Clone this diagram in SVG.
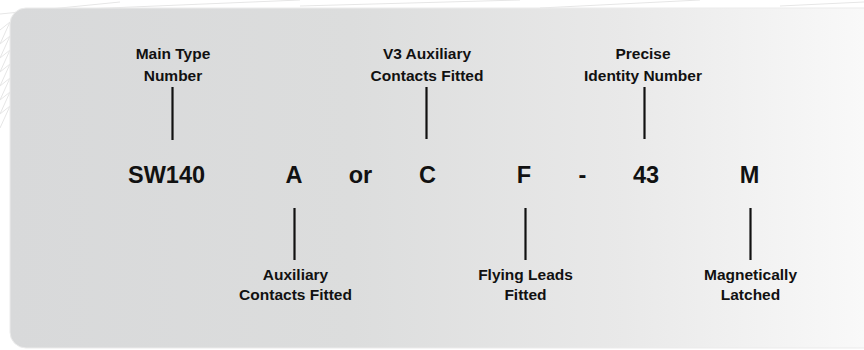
<svg xmlns="http://www.w3.org/2000/svg" width="864" height="350" viewBox="0 0 864 350">
<defs>
<linearGradient id="panelGrad" x1="10" y1="0" x2="864" y2="0" gradientUnits="userSpaceOnUse">
<stop offset="0" stop-color="#d8d9da"/>
<stop offset="0.4" stop-color="#dcdddd"/>
<stop offset="0.72" stop-color="#e9e9e9"/>
<stop offset="1" stop-color="#f9f9f9"/>
</linearGradient>
<style>
.lbl{font-family:"Liberation Sans",Arial,sans-serif;font-weight:bold;font-size:15.5px;fill:#111;text-anchor:middle}
.code{font-family:"Liberation Sans",Arial,sans-serif;font-weight:bold;font-size:23.5px;fill:#111;text-anchor:middle}
.conn line{stroke:#111;stroke-width:2.2}
.deco{stroke:#e6e6e6;stroke-width:1;fill:none}
</style>
</defs>
<rect width="864" height="350" fill="#ffffff"/>
<g class="deco">
<path d="M0 14 L120 2 M60 10 L300 0 M300 6 L520 0 M540 8 L700 0 M780 6 L864 2"/>
<path d="M0 30 L10 22 L0 44 L10 36 L0 58 L10 50 L0 72 L10 64 L0 86 L10 78 L0 100 L10 92 L0 114 L10 106 L0 128"/>
</g>
<rect x="10" y="8" width="870" height="340" rx="16" ry="16" fill="url(#panelGrad)" stroke="#ebebeb" stroke-width="1"/>
<g class="conn">
<line x1="172.5" y1="87" x2="172.5" y2="140"/>
<line x1="426.5" y1="87" x2="426.5" y2="139"/>
<line x1="644.5" y1="87" x2="644.5" y2="139"/>
<line x1="294.5" y1="208" x2="294.5" y2="260"/>
<line x1="525.5" y1="208" x2="525.5" y2="260"/>
<line x1="750.5" y1="208" x2="750.5" y2="260"/>
</g>
<g id="main-type">
<text class="lbl" x="173" y="59">Main Type</text>
<text class="lbl" x="173" y="81">Number</text>
</g>
<g id="v3-aux">
<text class="lbl" x="427" y="59">V3 Auxiliary</text>
<text class="lbl" x="427" y="81">Contacts Fitted</text>
</g>
<g id="precise-id">
<text class="lbl" x="643" y="59">Precise</text>
<text class="lbl" x="643" y="81">Identity Number</text>
</g>
<g id="code">
<text class="code" x="166.5" y="183">SW140</text>
<text class="code" x="294" y="183">A</text>
<text class="code" x="360.5" y="183">or</text>
<text class="code" x="427.5" y="183">C</text>
<text class="code" x="524" y="183">F</text>
<text class="code" x="582.5" y="183">-</text>
<text class="code" x="646" y="183">43</text>
<text class="code" x="749.5" y="183">M</text>
</g>
<g id="aux-contacts">
<text class="lbl" x="295.5" y="280">Auxiliary</text>
<text class="lbl" x="295.5" y="300">Contacts Fitted</text>
</g>
<g id="flying-leads">
<text class="lbl" x="525.5" y="280">Flying Leads</text>
<text class="lbl" x="525.5" y="300">Fitted</text>
</g>
<g id="magnetically-latched">
<text class="lbl" x="750.5" y="280">Magnetically</text>
<text class="lbl" x="750.5" y="300">Latched</text>
</g>
</svg>
